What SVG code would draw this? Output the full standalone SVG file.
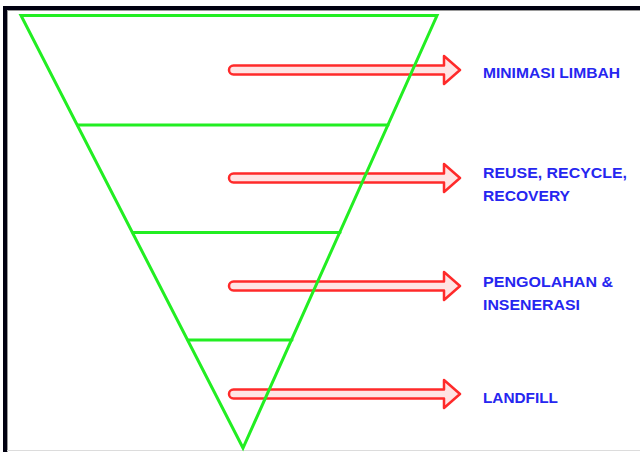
<svg xmlns="http://www.w3.org/2000/svg" width="640" height="452" viewBox="0 0 640 452">
  <style>
    .frame { fill: none; stroke: #000010; stroke-width: 4; }
    .inner { stroke: #9a9a9a; stroke-width: 1; }
    .tier { fill: none; stroke: #22ee22; stroke-width: 3; stroke-linejoin: miter; stroke-linecap: round; }
    .arrow { fill: #ffe4e4; stroke: #ff2a2a; stroke-width: 2.5; stroke-linejoin: round; }
    .label { font-family: "Liberation Sans", Arial, sans-serif; font-weight: bold; font-size: 15.5px; fill: #2626f0; }
  </style>
  <defs>
    <!-- hollow block arrow pointing right, rounded tail at x=0, centred on y=0 -->
    <path id="blockArrow" d="M4.5,-4.5 H215 V-14 L231,0 L215,14 V4.5 H4.5 A4.5,4.5 0 0 1 4.5,-4.5 Z"/>
  </defs>

  <rect width="640" height="452" fill="#ffffff"/>

  <!-- window frame -->
  <rect class="frame" x="5" y="8" width="700" height="500"/>
  <line class="inner" x1="7" y1="10.5" x2="640" y2="10.5"/>
  <line class="inner" x1="7.5" y1="10" x2="7.5" y2="452"/>
  <line x1="7" y1="450.5" x2="640" y2="450.5" stroke="#dcdcdc" stroke-width="1"/>

  <!-- arrows from each tier to its label -->
  <g id="connectors">
    <use href="#blockArrow" class="arrow" x="229" y="70"/>
    <use href="#blockArrow" class="arrow" x="229" y="178"/>
    <use href="#blockArrow" class="arrow" x="229" y="286"/>
    <use href="#blockArrow" class="arrow" x="229" y="394"/>
  </g>

  <!-- inverted pyramid -->
  <g id="pyramid">
    <path class="tier" d="M21,15.5 H437 L243,448 Z"/>
    <line class="tier" x1="78" y1="125" x2="388" y2="125"/>
    <line class="tier" x1="133" y1="232.5" x2="340" y2="232.5"/>
    <line class="tier" x1="188" y1="340" x2="292" y2="340"/>
  </g>

  <g id="tier-minimasi">
    <text class="label" x="483" y="78" textLength="137" lengthAdjust="spacingAndGlyphs">MINIMASI LIMBAH</text>
  </g>
  <g id="tier-reuse">
    <text class="label" x="483" y="178" textLength="144" lengthAdjust="spacingAndGlyphs">REUSE, RECYCLE,</text>
    <text class="label" x="483" y="201" textLength="87" lengthAdjust="spacingAndGlyphs">RECOVERY</text>
  </g>
  <g id="tier-pengolahan">
    <text class="label" x="483" y="287" textLength="130" lengthAdjust="spacingAndGlyphs">PENGOLAHAN &amp;</text>
    <text class="label" x="483" y="310" textLength="97" lengthAdjust="spacingAndGlyphs">INSENERASI</text>
  </g>
  <g id="tier-landfill">
    <text class="label" x="483" y="403" textLength="75" lengthAdjust="spacingAndGlyphs">LANDFILL</text>
  </g>
</svg>
